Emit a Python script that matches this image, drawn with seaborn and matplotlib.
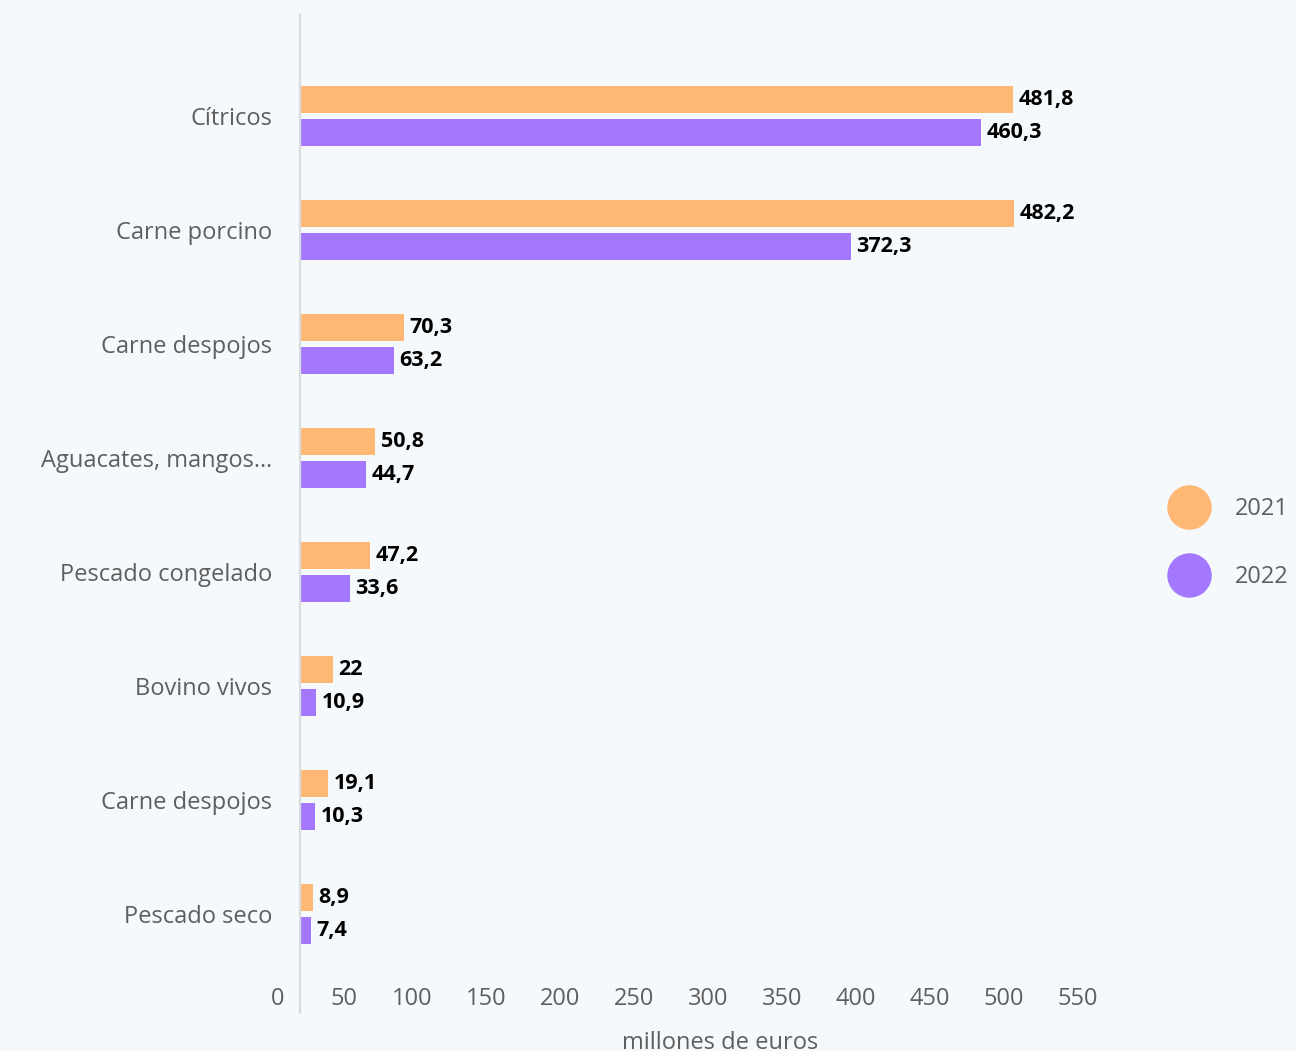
import matplotlib
matplotlib.use("Agg")
import matplotlib.pyplot as plt
import matplotlib.transforms as mtransforms
from matplotlib.lines import Line2D
import seaborn as sns
import pandas as pd

# Export values, millions of euros
categories = ["Cítricos", "Carne porcino", "Carne despojos", "Aguacates, mangos…",
              "Pescado congelado", "Bovino vivos", "Carne despojos", "Pescado seco"]
values_2021 = [481.8, 482.2, 70.3, 50.8, 47.2, 22.0, 19.1, 8.9]
values_2022 = [460.3, 372.3, 63.2, 44.7, 33.6, 10.9, 10.3, 7.4]
years = ["2021", "2022"]
x_ticks = [0, 50, 100, 150, 200, 250, 300, 350, 400, 450, 500, 550]
x_label = "millones de euros"

BG = "#f5f9fc"
ORANGE = "#ffb874"
PURPLE = "#a378ff"
GREY_TXT = "#5e5e5e"

sns.set_theme(style="white")
plt.rcParams["font.family"] = ["Open Sans", "DejaVu Sans"]

rows = []
for i, cat in enumerate(categories):
    rows.append({"pos": i, "year": years[0], "value": values_2021[i]})
    rows.append({"pos": i, "year": years[1], "value": values_2022[i]})
df = pd.DataFrame(rows)
df["pos"] = df["pos"].astype(str)

fig = plt.figure(figsize=(12.96, 10.51), dpi=100, facecolor=BG)
ax = fig.add_axes([300 / 1296, 1 - 1013 / 1051, 814 / 1296, 998 / 1051])
ax.set_facecolor(BG)

sns.barplot(data=df, y="pos", x="value", hue="year", orient="h",
            order=[str(i) for i in range(len(categories))],
            palette=[ORANGE, PURPLE], width=0.58, gap=0.18,
            saturation=1, legend=False, linewidth=0, edgecolor="none", ax=ax)

for cont in ax.containers:
    labels = [f"{v:g}".replace(".", ",") for v in cont.datavalues]
    ax.bar_label(cont, labels=labels, padding=4, fontsize=15.5,
                 fontweight="bold", color="black")

ax.set_xlim(0, 550)
ax.set_ylim(7.87, -0.886)
ax.set_xticks(x_ticks)
ax.set_xticklabels([str(t) for t in x_ticks])
ax.set_yticks(range(len(categories)))
ax.set_yticklabels(categories)
ax.set_xlabel("")
ax.set_ylabel("")
ax.tick_params(axis="y", length=0, pad=20, labelsize=17, labelcolor=GREY_TXT)
ax.tick_params(axis="x", length=0, pad=0, labelsize=17, labelcolor=GREY_TXT)

shift = mtransforms.ScaledTranslation(-16 / 100, 26 / 100, fig.dpi_scale_trans)
for lab in ax.get_xticklabels():
    lab.set_horizontalalignment("right")
    lab.set_transform(lab.get_transform() + shift)

for side in ["top", "right", "bottom"]:
    ax.spines[side].set_visible(False)
ax.spines["left"].set_color("#d8dcdf")
ax.spines["left"].set_linewidth(1.6)

fig.text(720 / 1296, 1 - 1043 / 1051, x_label, ha="center", va="center",
         fontsize=17, color=GREY_TXT)

handles = [Line2D([], [], marker="o", linestyle="", markersize=31,
                  markerfacecolor=c, markeredgecolor=c) for c in (ORANGE, PURPLE)]
leg = fig.legend(handles, years, loc="center left",
                 bbox_to_anchor=(1159 / 1296, 1 - 543 / 1051),
                 frameon=False, fontsize=17, labelspacing=1.87,
                 handletextpad=1.2, borderpad=0, handlelength=1.5)
for t in leg.get_texts():
    t.set_color(GREY_TXT)

fig.savefig("out.png", dpi=100, facecolor=BG)
